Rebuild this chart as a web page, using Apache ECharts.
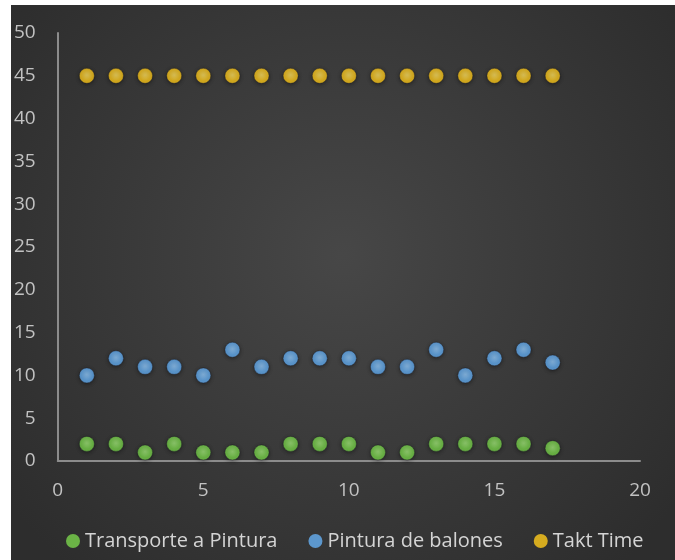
<!DOCTYPE html>
<html><head><meta charset="utf-8">
<script src="https://cdn.jsdelivr.net/npm/echarts@6/dist/echarts.min.js"></script>
<style>html,body{margin:0;padding:0;background:#fff;width:675px;height:560px;overflow:hidden}
#c{position:absolute;left:11px;top:5px;width:664px;height:555px}</style>
</head><body><div id="c"></div>
<script>
const xValues = [1,2,3,4,5,6,7,8,9,10,11,12,13,14,15,16,17];
const transporte = [2,2,1,2,1,1,1,2,2,2,1,1,2,2,2,2,1.5];
const pintura = [10,12,11,11,10,13,11,12,12,12,11,11,13,10,12,13,11.5];
const takt = [45,45,45,45,45,45,45,45,45,45,45,45,45,45,45,45,45];
const seriesNames = ['Transporte a Pintura','Pintura de balones','Takt Time'];
const colors = ['#7ad44c','#66b0f4','#ffca1c'];
const lightColors = ['#a0e678','#92cafc','#ffe060'];

const chart = echarts.init(document.getElementById('c'));
const pairs = arr => xValues.map((x,i)=>[x,arr[i]]);
const font = '"Open Sans", sans-serif';
function mk(i, arr){
  return {name:seriesNames[i], type:'scatter', data:pairs(arr), symbol:'circle', symbolSize:15,
    itemStyle:{
      color:{type:'radial', x:0.5, y:0.45, r:0.5,
        colorStops:[{offset:0,color:lightColors[i]},{offset:0.75,color:colors[i]},{offset:1,color:colors[i]}]},
      borderColor:'rgba(25,25,35,0.45)', borderWidth:1,
      shadowColor:'rgba(0,0,0,0.5)', shadowBlur:4, shadowOffsetY:1}};
}
chart.setOption({
  backgroundColor:{type:'radial', x:0.5, y:0.45, r:0.75,
    colorStops:[{offset:0,color:'#474747'},{offset:1,color:'#2d2d2d'}]},
  animation:false,
  grid:{left:46, right:35, top:28, bottom:99},
  xAxis:{type:'value', min:0, max:20, interval:5,
    axisLine:{show:true, onZero:false, lineStyle:{color:'#8c8c8c', width:2}},
    axisTick:{show:false}, splitLine:{show:false},
    axisLabel:{color:'#c2c2c2', fontSize:19, fontFamily:font, margin:20}},
  yAxis:{type:'value', min:0, max:50, interval:5,
    axisLine:{show:true, lineStyle:{color:'#8c8c8c', width:2}},
    axisTick:{show:false}, splitLine:{show:false},
    axisLabel:{color:'#c2c2c2', fontSize:19, fontFamily:font, margin:22}},
  legend:{bottom:4, left:50, icon:'circle', itemWidth:14, itemHeight:14, itemGap:31,
    textStyle:{color:'#d4d4d4', fontSize:20, fontFamily:font},
    itemStyle:{borderWidth:0, shadowBlur:0},
    data:seriesNames.map((n,i)=>({name:n, itemStyle:{color:colors[i]}}))},
  series:[mk(0,transporte), mk(1,pintura), mk(2,takt)]
});
</script></body></html>
